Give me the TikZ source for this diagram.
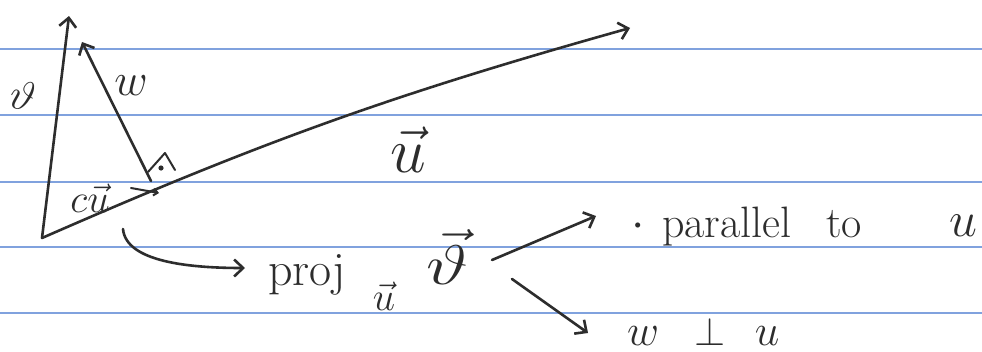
\RequirePackage{fix-cm}
\documentclass[tikz,border=0pt]{standalone}
\usetikzlibrary{arrows.meta}
\definecolor{inkc}{RGB}{45,45,45}
\definecolor{rulec}{RGB}{128,162,222}
\begin{document}
\begin{tikzpicture}[x=1pt,y=-1pt,
  ink/.style={draw=inkc, line width=2.6pt, line cap=round, line join=round},
  tip/.style={-{Straight Barb[length=9pt,width=17pt]}},
  rulel/.style={draw=rulec, line width=2.8pt},
  lbl/.style={text=inkc, inner sep=0pt, outer sep=0pt},
  fs/.style={font=\fontsize{#1}{#1}\selectfont}]
\fill[white] (0,0) rectangle (982,351);
\useasboundingbox (0,0) rectangle (982,351);
% ruled paper
\foreach \y in {49,115,182,247,313} \draw[rulel] (0,\y) -- (982,\y);
% main points
\coordinate (O) at (42,238);
\coordinate (V) at (69,16);
\coordinate (U) at (630,28);
\coordinate (F) at (151,181);
\coordinate (W) at (82,42);
\draw[ink,tip] (O) -- (V);
\draw[ink,tip] (O) to[bend left=4] (U);
\draw[ink,tip] (F) -- (W);
% right angle mark
\coordinate (r1) at (148,172);
\coordinate (r2) at (165,153);
\coordinate (r3) at (175,170);
\draw[ink,line width=2pt] (r1) -- (r2) -- (r3);
\fill[inkc] (161,168) circle (2.6pt);
% small arrow on cu
\coordinate (s1) at (131,188);
\coordinate (s2) at (159,193);
\draw[ink,line width=2pt,-{Straight Barb[length=4pt,width=7pt]}] (s1) -- (s2);
% labels on triangle
\node[lbl,fs=42,rotate=-15] (vl) at (23,96) {$\vartheta$};
\node[lbl,fs=46] (wl) at (131,86) {$w$};
\node[lbl,fs=40] (cu) at (90,198) {$c\vec{u}$};
\node[lbl,fs=64] (ul) at (408,150) {$\vec{u}$};
% curved arrow to proj
\coordinate (c1) at (123,229);
\coordinate (c2) at (245,268);
\draw[ink,tip] (c1) .. controls (126,262) and (190,268) .. (c2);
% proj_u v
\node[lbl,fs=48,anchor=base west] (pj) at (268,285) {proj};
\node[lbl,fs=40] (pu) at (384,296) {$\vec{u}$};
\node[lbl,fs=56,xscale=1.3] (pv) at (447,257) {$\vec{\vartheta}$};
% branches
\coordinate (b1) at (492,260);
\coordinate (b2) at (596,216);
\coordinate (b3) at (512,279);
\coordinate (b4) at (588,333);
\draw[ink,tip] (b1) -- (b2);
\draw[ink,tip] (b3) -- (b4);
% parallel to u
\node[lbl,fs=48] (dot) at (638,227) {$\cdot$};
\node[lbl,fs=44,anchor=base west] (par) at (662,237) {parallel};
\node[lbl,fs=44,anchor=base west] (to) at (826,237) {to};
\node[lbl,fs=50] (u2) at (963,226) {$u$};
% w perp u
\node[lbl,fs=44,anchor=base] (w2) at (643,345) {$w$};
\node[lbl,fs=40,anchor=base] (pp) at (710,345) {$\perp$};
\node[lbl,fs=44,anchor=base] (u3) at (767,345) {$u$};
\end{tikzpicture}
\end{document}
